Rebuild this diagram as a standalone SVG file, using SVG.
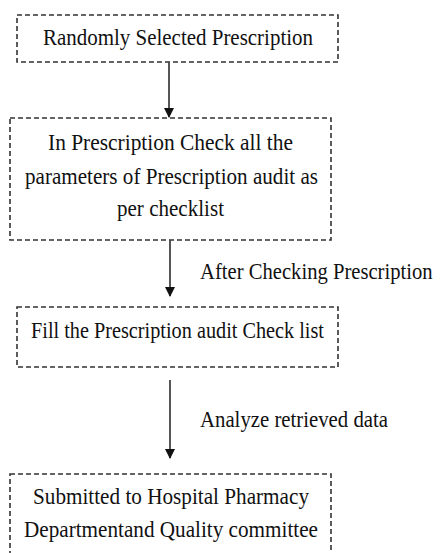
<svg xmlns="http://www.w3.org/2000/svg" width="440" height="553" viewBox="0 0 440 553">
<style>
.box{fill:#fff;stroke:#333;stroke-width:1.6;stroke-dasharray:5 3}
.t{font-family:"Liberation Serif","Times New Roman",serif;font-size:24px;fill:#111}
.c{stroke:#444;stroke-width:1.8;fill:none}
</style>
<defs>
<marker id="ah" markerWidth="10" markerHeight="10" refX="9" refY="5" orient="auto" markerUnits="userSpaceOnUse">
<path d="M0,0 L10,5 L0,10 Z" fill="#111"/>
</marker>
</defs>
<rect width="440" height="553" fill="#fff"/>
<g id="n1">
<rect class="box" x="17" y="15" width="321" height="47"/>
<text class="t" x="43" y="45" textLength="270" lengthAdjust="spacingAndGlyphs">Randomly Selected Prescription</text>
</g>
<g id="n2">
<rect class="box" x="10" y="118" width="321" height="122"/>
<text class="t" x="48" y="150" textLength="245" lengthAdjust="spacingAndGlyphs">In Prescription Check all the</text>
<text class="t" x="25" y="184" textLength="293" lengthAdjust="spacingAndGlyphs">parameters of Prescription audit as</text>
<text class="t" x="117" y="216" textLength="107" lengthAdjust="spacingAndGlyphs">per checklist</text>
</g>
<g id="n3">
<rect class="box" x="17" y="307" width="321" height="60"/>
<text class="t" x="31" y="338" textLength="293" lengthAdjust="spacingAndGlyphs">Fill the Prescription audit Check list</text>
</g>
<g id="n4">
<rect class="box" x="10" y="474" width="321" height="100"/>
<text class="t" x="33" y="504" textLength="276" lengthAdjust="spacingAndGlyphs">Submitted to Hospital Pharmacy</text>
<text class="t" x="24" y="537" textLength="294" lengthAdjust="spacingAndGlyphs">Departmentand Quality committee</text>
</g>
<g id="connectors">
<line class="c" x1="169" y1="62" x2="169" y2="117" marker-end="url(#ah)"/>
<line class="c" x1="170" y1="240" x2="170" y2="296" marker-end="url(#ah)"/>
<line class="c" x1="170" y1="380" x2="170" y2="458" marker-end="url(#ah)"/>
<text class="t" transform="translate(200,279) scale(0.86,1)" x="0" y="0">After Checking Prescription</text>
<text class="t" x="200" y="427" textLength="188" lengthAdjust="spacingAndGlyphs">Analyze retrieved data</text>
</g>
</svg>
